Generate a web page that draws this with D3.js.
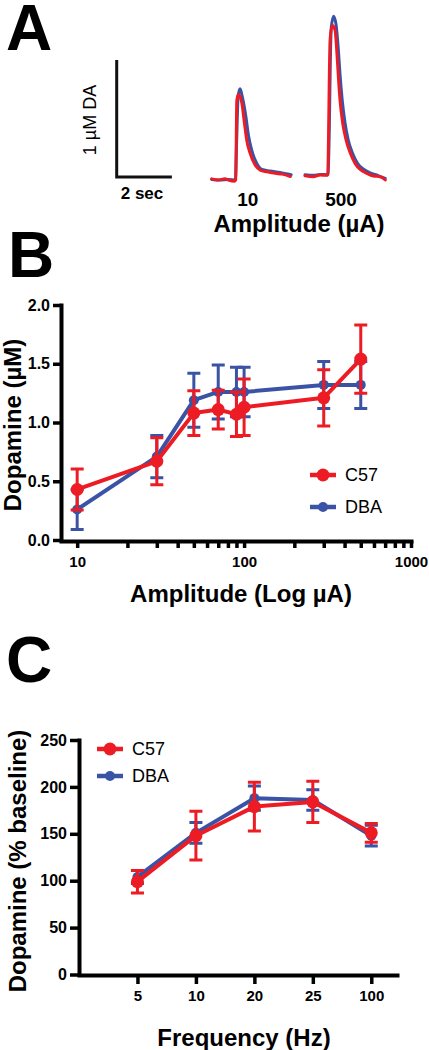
<!DOCTYPE html>
<html><head><meta charset="utf-8">
<script src="https://cdn.jsdelivr.net/npm/d3@7"></script>
<style>
body{margin:0;background:#fff}
svg{display:block}
text{font-family:"Liberation Sans",Arial,Helvetica,sans-serif;fill:#000}
</style>
</head><body>
<svg id="chart" width="429" height="1050"></svg>
<script>
// ---------- DATA ----------
// Panel A: example traces, [time (s), DA (µM)]
const traceAmps = ["10", "500"];
const trace10C57 = [[0,0.01],[0.24,0],[0.48,0.01],[0.6,0],[0.82,-0.01],[0.87,0],[0.91,0.68],[0.97,0.73],[1.09,0.66],[1.19,0.48],[1.27,0.34],[1.39,0.23],[1.57,0.13],[1.76,0.085],[2.0,0.07],[2.3,0.057],[2.55,0.05],[2.85,0.03]];
const trace10DBA = [[0,0.005],[0.3,0.0],[0.6,0.005],[0.86,0],[0.9,0.3],[0.96,0.72],[1.03,0.78],[1.11,0.71],[1.24,0.54],[1.33,0.385],[1.45,0.256],[1.64,0.14],[1.82,0.09],[2.12,0.077],[2.48,0.064],[2.88,0.045]];
const trace500C57 = [[0,0.037],[0.3,0.028],[0.55,0.043],[0.76,0.04],[0.82,0.04],[0.91,1.2],[0.99,1.32],[1.09,1.28],[1.15,1.11],[1.21,0.88],[1.27,0.68],[1.37,0.48],[1.49,0.34],[1.64,0.23],[1.82,0.14],[2.0,0.09],[2.24,0.057],[2.48,0.034],[2.73,0.028],[2.91,0.0]];
const trace500DBA = [[0,0.045],[0.3,0.04],[0.55,0.047],[0.8,0.045],[0.84,0.05],[0.95,1.3],[1.04,1.40],[1.13,1.32],[1.21,1.11],[1.27,0.9],[1.35,0.68],[1.45,0.49],[1.57,0.34],[1.72,0.23],[1.91,0.14],[2.11,0.094],[2.36,0.06],[2.65,0.038],[2.91,0.013]];

// Panel B: amplitude response
const ampB = [10, 30, 50, 70, 90, 100, 300, 500];
const c57B = [0.43, 0.67, 1.08, 1.11, 1.07, 1.13, 1.21, 1.54];
const c57BErr = [0.175, 0.2, 0.19, 0.165, 0.19, 0.24, 0.24, 0.29];
const dbaB = [0.26, 0.71, 1.19, 1.26, 1.26, 1.26, 1.32, 1.32];
const dbaBErr = [0.17, 0.18, 0.23, 0.23, 0.21, 0.21, 0.2, 0.2];
const ampBTicks = [10,20,30,40,50,60,70,80,90,100,200,300,400,500,600,700,800,900,1000];
const ampBLabels = [10, 100, 1000];
const yBTicks = [0, 0.5, 1.0, 1.5, 2.0];

// Panel C: frequency response
const freqC = ["5", "10", "20", "25", "100"];
const c57C = [99, 148, 179, 184, 151];
const c57CErr = [12, 26, 26, 22, 10];
const dbaC = [104, 151, 188, 186, 148];
const dbaCErr = [7, 11, 13, 11, 11];
const yCTicks = [0, 50, 100, 150, 200, 250];

const seriesNames = ["C57", "DBA"];

// ---------- STYLE ----------
const RED = "#ed1c24", BLUE = "#3a53a4";
const svg = d3.select("#chart");
svg.append("rect").attr("width",429).attr("height",1050).attr("fill","#fff");

function panelLetter(t, x, y){
  svg.append("text").attr("x",x).attr("y",y).attr("font-size",64).attr("font-weight","bold").text(t);
}

// ---------- PANEL A ----------
panelLetter("A", 6, 50);
const xT = d3.scaleLinear().domain([0, 2.9]).range([0, 80]);
const yA = d3.scaleLinear().domain([0, 1]).range([180, 63]);
const groupA = d3.scaleBand().domain(traceAmps).range([211.7, 398.3]);
const lineA = d3.line().x(d => xT(d[0])).y(d => yA(d[1])).curve(d3.curveMonotoneX);
const traces = [
  {amp:"10", data:trace10DBA, color:BLUE},
  {amp:"500", data:trace500DBA, color:BLUE},
  {amp:"10", data:trace10C57, color:RED},
  {amp:"500", data:trace500C57, color:RED}
];
traces.forEach(tr => {
  svg.append("path").attr("transform", `translate(${groupA(tr.amp)},0)`)
    .attr("d", lineA(tr.data)).attr("fill","none").attr("stroke",tr.color)
    .attr("stroke-width",3).attr("stroke-linejoin","round").attr("stroke-linecap","round");
});
traceAmps.forEach(a => {
  svg.append("text").attr("x", groupA(a) + 36).attr("y", 199).attr("text-anchor","middle")
    .attr("dominant-baseline","central").attr("font-size",19).attr("font-weight","bold").text(a);
});
svg.append("text").attr("x",299).attr("y",223).attr("text-anchor","middle")
  .attr("dominant-baseline","central").attr("font-size",24).attr("font-weight","bold").text("Amplitude (µA)");
// scale bar
const sbX = 116.7, sbY = 177;
const sbH = yA(0) - yA(1), sbW = xT(2) - xT(0);
svg.append("path").attr("d", `M${sbX},${sbY - sbH}V${sbY}H${sbX + sbW}`)
  .attr("fill","none").attr("stroke","#111").attr("stroke-width",3);
svg.append("text").attr("transform",`translate(90,120) rotate(-90)`).attr("text-anchor","middle")
  .attr("dominant-baseline","central").attr("font-size",18).text("1 µM DA");
svg.append("text").attr("x",142).attr("y",193).attr("text-anchor","middle")
  .attr("dominant-baseline","central").attr("font-size",17).attr("font-weight","bold").text("2 sec");

// ---------- helpers ----------
function styleAxis(g, fs){
  g.select(".domain").attr("stroke","#000").attr("stroke-width",4).attr("stroke-linecap","square");
  g.selectAll(".tick line").attr("stroke","#000").attr("stroke-width",3.5);
  g.selectAll(".tick text").attr("font-size",fs).attr("font-weight","bold").attr("fill","#000")
    .style("font-family",'"Liberation Sans",Arial,Helvetica,sans-serif');
}
function drawSeries(xs, vals, errs, xf, yf, color, r){
  const g = svg.append("g");
  const pts = vals.map((v,i) => ({x:xf(xs[i], i), v, e:errs[i]}));
  g.append("path").attr("d", d3.line().x(d=>d.x).y(d=>yf(d.v))(pts))
    .attr("fill","none").attr("stroke",color).attr("stroke-width",4).attr("stroke-linejoin","round");
  pts.forEach(p => {
    const cw = 6.5;
    g.append("path").attr("d",
      `M${p.x},${yf(p.v - p.e)}V${yf(p.v + p.e)}M${p.x - cw},${yf(p.v + p.e)}H${p.x + cw}M${p.x - cw},${yf(p.v - p.e)}H${p.x + cw}`)
      .attr("fill","none").attr("stroke",color).attr("stroke-width",3);
  });
  g.selectAll("circle").data(pts).enter().append("circle")
    .attr("cx",d=>d.x).attr("cy",d=>yf(d.v)).attr("r",r).attr("fill",color);
}
function legend(x, y0, dy){
  [[seriesNames[0],RED,6.5],[seriesNames[1],BLUE,5]].forEach((s,i)=>{
    const y = y0 + i*dy;
    svg.append("line").attr("x1",x).attr("x2",x+26).attr("y1",y).attr("y2",y)
      .attr("stroke",s[1]).attr("stroke-width",4.5);
    svg.append("circle").attr("cx",x+13).attr("cy",y).attr("r",s[2]).attr("fill",s[1]);
    svg.append("text").attr("x",x+35).attr("y",y).attr("dominant-baseline","central")
      .attr("font-size",18).text(s[0]);
  });
}

// ---------- PANEL B ----------
panelLetter("B", 8, 277);
const xB = d3.scaleLog().domain([8, 1000]).range([61, 411]);
const yB = d3.scaleLinear().domain([0, 2]).range([540, 305]);
const gxB = svg.append("g").attr("transform","translate(0,541)")
  .call(d3.axisBottom(xB).tickValues(ampBTicks).tickSize(7).tickSizeOuter(0).tickPadding(8)
    .tickFormat(d => ampBLabels.includes(d) ? String(d) : ""));
styleAxis(gxB, 15);
const gyB = svg.append("g").attr("transform","translate(61,0)")
  .call(d3.axisLeft(yB).tickValues(yBTicks).tickSize(8).tickSizeOuter(0).tickPadding(3).tickFormat(d3.format(".1f")));
styleAxis(gyB, 16);
drawSeries(ampB, dbaB, dbaBErr, d => xB(d), yB, BLUE, 5);
drawSeries(ampB, c57B, c57BErr, d => xB(d), yB, RED, 6.5);
legend(310, 475, 32);
svg.append("text").attr("transform","translate(12,425) rotate(-90)").attr("text-anchor","middle")
  .attr("dominant-baseline","central").attr("font-size",24).attr("font-weight","bold").text("Dopamine (µM)");
svg.append("text").attr("x",241).attr("y",593).attr("text-anchor","middle")
  .attr("dominant-baseline","central").attr("font-size",24).attr("font-weight","bold").text("Amplitude (Log µA)");

// ---------- PANEL C ----------
panelLetter("C", 6, 682);
const xC = d3.scaleLinear().domain([-1, 4.44]).range([79, 397]);
const yC = d3.scaleLinear().domain([0, 250]).range([974.5, 740]);
const gxC = svg.append("g").attr("transform","translate(0,975)")
  .call(d3.axisBottom(xC).tickValues(freqC.map((d,i)=>i)).tickSize(9).tickSizeOuter(0).tickPadding(6)
    .tickFormat(i => freqC[i]));
styleAxis(gxC, 15);
const gyC = svg.append("g").attr("transform","translate(79,0)")
  .call(d3.axisLeft(yC).tickValues(yCTicks).tickSize(9).tickSizeOuter(0).tickPadding(3));
styleAxis(gyC, 16);
drawSeries(freqC, dbaC, dbaCErr, (d,i) => xC(i), yC, BLUE, 5);
drawSeries(freqC, c57C, c57CErr, (d,i) => xC(i), yC, RED, 6.5);
legend(97, 749, 27);
svg.append("text").attr("transform","translate(17,861) rotate(-90)").attr("text-anchor","middle")
  .attr("dominant-baseline","central").attr("font-size",24).attr("font-weight","bold").text("Dopamine (% baseline)");
svg.append("text").attr("x",244).attr("y",1037).attr("text-anchor","middle")
  .attr("dominant-baseline","central").attr("font-size",24).attr("font-weight","bold").text("Frequency (Hz)");
</script>
</body></html>
